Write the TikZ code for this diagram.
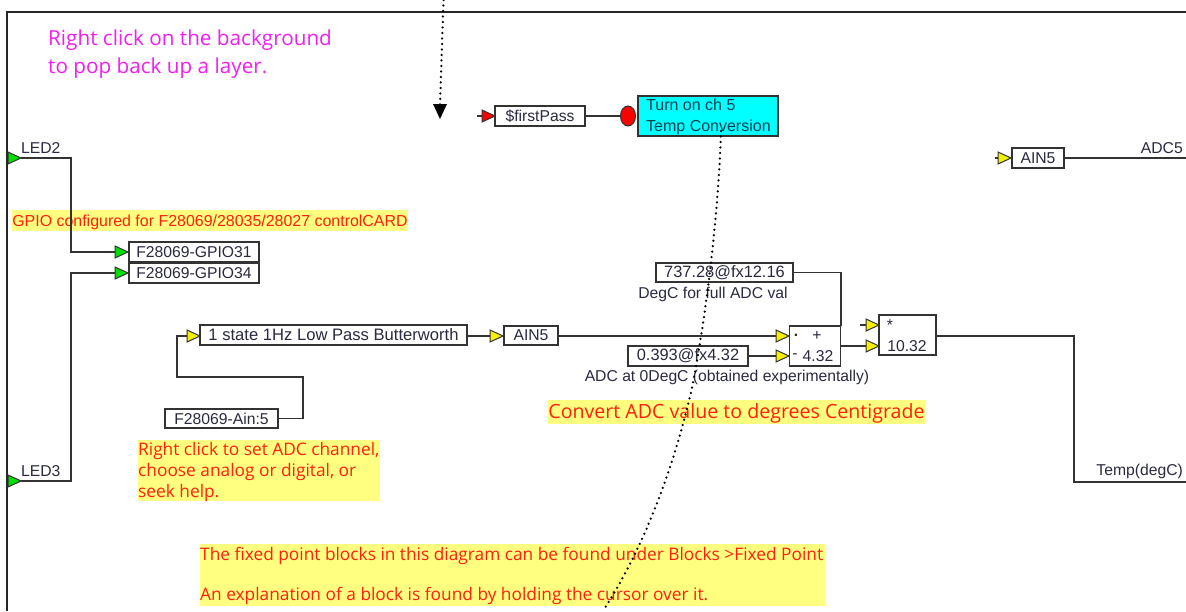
\documentclass[tikz,border=0pt]{standalone}
\usepackage{fontspec}
\setmainfont{Liberation Sans}
\newfontfamily\notefont{Open Sans}
\usetikzlibrary{arrows.meta,shapes.geometric}
\definecolor{wireC}{HTML}{333333}
\definecolor{noteY}{HTML}{FFFF80}
\definecolor{noteR}{HTML}{FF2010}
\definecolor{pinkT}{HTML}{F020F0}
\definecolor{triG}{HTML}{00E000}
\definecolor{triY}{HTML}{F4F000}
\definecolor{triR}{HTML}{FF0000}
\definecolor{txt}{HTML}{2A2A40}
\definecolor{cyanB}{HTML}{00FFFF}
\definecolor{cyanT}{HTML}{004050}
\tikzset{
  wire/.style={draw=wireC,line width=1.6pt},
  block/.style={draw=wireC,line width=1.6pt,fill=white,inner sep=0pt,text=txt,font=\fontsize{15.7}{17}\selectfont},
  lbl/.style={inner sep=0pt,text=txt,font=\fontsize{15.7}{17}\selectfont},
  note/.style={text=noteR,inner sep=0pt,font=\notefont\fontsize{17.3}{21}\selectfont,align=left},
  pinknote/.style={text=pinkT,inner sep=0pt,font=\notefont\fontsize{20.7}{28}\selectfont,align=left,anchor=north west},
  dots/.style={line width=2.5pt,line cap=round,dash pattern=on 0pt off 5.5pt,draw=black}
}
% \btn{name}{left}{top}{right}{bottom}{text}
\newcommand{\btn}[6]{\node[block,minimum width={(#4-#2)*1pt},minimum height={(#5-#3)*1pt}] (#1) at ({(#2+#4)/2},{(#3+#5)/2}) {#6};}
% \tri{name}{x of base}{y}{colour}
\newcommand{\tri}[4]{\draw[line width=1pt,draw=black!80,fill=#4] ({#2},{#3-6}) -- ({#2+13},{#3}) -- ({#2},{#3+6}) -- cycle;\coordinate (#1) at ({#2},{#3});\coordinate (#1t) at ({#2+13},{#3});}
\begin{document}
\begin{tikzpicture}[x=1pt,y=-1pt]
\useasboundingbox (0,0) rectangle (1186,611);
% frame
\coordinate (frameTL) at (7,12);
\coordinate (frameTR) at (1186,12);
\coordinate (frameBL) at (7,611);
\draw[line width=1.5pt,draw=black!85] (frameBL) -- (frameTL) -- (frameTR);
% note backgrounds
\fill[noteY] (12,210) rectangle (408,231);
\fill[noteY] (138,440) rectangle (380,501);
\fill[noteY] (548,400) rectangle (925,424);
\fill[noteY] (200,544) rectangle (825,606);
% note text
\node[pinknote] (n1) at (48,30) {Right click on the background\\to pop back up a layer.};
\node[note,font=\fontsize{15.95}{17}\selectfont] (n2) at (210,222) {GPIO configured for F28069/28035/28027 controlCARD};
\node[note,anchor=west] (n3) at (138,472) {Right click to set ADC channel,\\choose analog or digital, or\\seek help.};
\node[note,font=\notefont\fontsize{19.6}{21}\selectfont] (n4) at (736.5,413.5) {Convert ADC value to degrees Centigrade};
\node[note,anchor=west,font=\notefont\fontsize{17.3}{20.5}\selectfont] (n5) at (200,576) {The fixed point blocks in this diagram can be found under Blocks >Fixed Point\\[20pt]An explanation of a block is found by holding the cursor over it.};
% triangles
\tri{tF}{482}{116}{triR}
\tri{tL2}{8}{158}{triG}
\tri{tL3}{8}{481}{triG}
\tri{tG1}{115}{252}{triG}
\tri{tG2}{115}{273}{triG}
\tri{tLP}{187}{336}{triY}
\tri{tA}{490}{336}{triY}
\tri{tS1}{776}{336}{triY}
\tri{tS2}{776}{356}{triY}
\tri{tM1}{866}{325}{triY}
\tri{tM2}{866}{346}{triY}
\tri{tR}{998}{158}{triY}
% blocks
\btn{first}{495}{106}{585}{126}{\$firstPass}
\btn{gpioA}{129}{242}{259}{262}{F28069-GPIO31}
\btn{gpioB}{129}{263}{259}{283}{F28069-GPIO34}
\btn{filt}{200}{325}{467}{345}{\fontsize{16.6}{17}\selectfont 1 state 1Hz Low Pass Butterworth}
\btn{ain}{504}{326}{558}{345}{AIN5}
\btn{adc}{165}{409}{278}{428}{F28069-Ain:5}
\btn{cA}{656}{263}{793}{282}{\fontsize{16.4}{17}\selectfont 737.28@fx12.16}
\btn{cB}{628}{346}{748}{366}{\fontsize{16.4}{17}\selectfont 0.393@fx4.32}
\btn{ainR}{1012}{148}{1064}{168}{AIN5}
\node[block,fill=cyanB,minimum width=140pt,minimum height=40pt] (turn) at (708,116) {};
\node[lbl,anchor=west,align=left,text=cyanT,font=\fontsize{16}{21}\selectfont] (turnT) at (646,117) {Turn on ch 5\\Temp Conversion};
\node[block,minimum width=51pt,minimum height=40pt] (sum) at (815,346) {};
\node[block,minimum width=57pt,minimum height=40pt] (mul) at (907.5,335) {};
\node[lbl] (sA) at (796,335) {\textbf{.}};
\node[lbl] (sB) at (817,336) {+};
\node[lbl] (sC) at (795,356) {-};
\node[lbl] (sD) at (818,356) {4.32};
\node[lbl] (mA) at (890,325) {*};
\node[lbl] (mB) at (907,346) {10.32};
% plain labels
\node[lbl,anchor=west] (L2) at (21,148) {LED2};
\node[lbl,anchor=west] (L3) at (21,471) {LED3};
\node[lbl,anchor=east] (adc5) at (1183,148) {ADC5};
\node[lbl,anchor=east] (temp) at (1183,471) {Temp(degC)};
\node[lbl] (dA) at (713,294) {DegC for full ADC val};
\node[lbl] (dB) at (727,377) {ADC at 0DegC (obtained experimentally)};
% red circle
\node[draw=wireC,line width=1pt,fill=triR,ellipse,minimum width=15pt,minimum height=20pt,inner sep=0pt] (rc) at (628,116) {};
% connectors
\coordinate (stubF) at (477,116);
\draw[wire] (stubF) -- (tF);
\draw[wire] (first.east) -- (rc.west);
\draw[wire] (tL2t) -| (71,252) -- (tG1);
\draw[wire] (tL3t) -| (71,273) -- (tG2);
\draw[wire] (adc.east) -- (303,418.5) |- (177,377) |- (tLP);
\draw[wire] (filt.east |- tA) -- (tA);
\draw[wire] (ain.east |- tS1) -- (tS1);
\draw[wire] (cB.east |- tS2) -- (tS2);
\draw[wire] (cA.east) -- (841,272.5) -- (841,326);
\draw[wire] (841,346) -- (tM2);
\coordinate (stubM) at (860,325);
\draw[wire] (stubM) -- (tM1);
\coordinate (outT) at (1186,482);
\draw[wire] (936,336) -| (1074,482) -- (outT);
\coordinate (stubR) at (995,158);
\draw[wire] (stubR) -- (tR);
\coordinate (outA) at (1186,158);
\draw[wire] (ainR.east) -- (outA);
% dotted routes
\coordinate (dTop) at (443.5,0);
\coordinate (dHead) at (440,105);
\draw[dots] (dTop) -- (dHead);
\fill[black] (433,104) -- (447,104) -- (440,119) -- cycle;
\coordinate (dEnd) at (603,611);
\draw[dots] (721,131) .. controls (719,200) and (709,300) .. (692,388) .. controls (680,440) and (655,530) .. (dEnd);
\end{tikzpicture}
\end{document}
